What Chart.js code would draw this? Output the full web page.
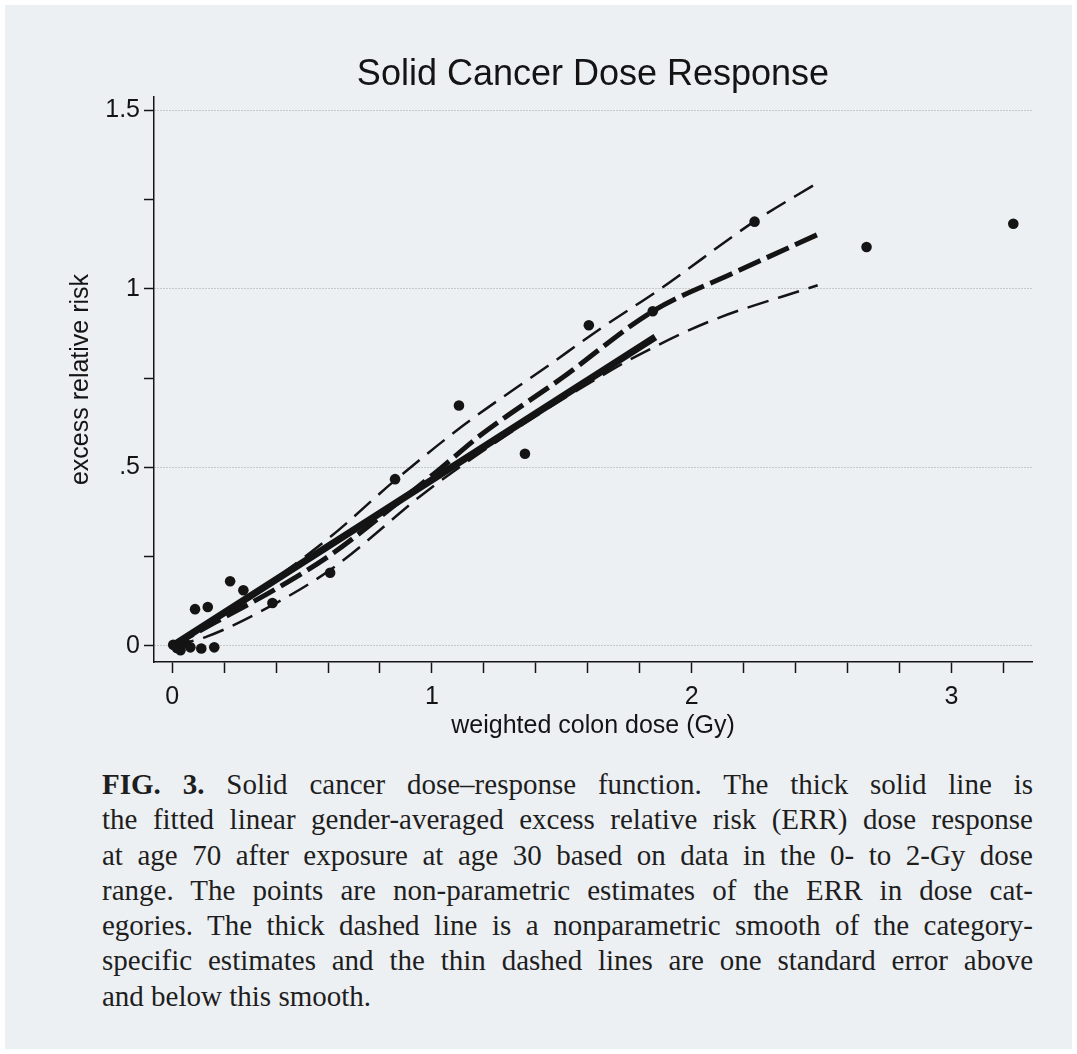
<!DOCTYPE html>
<html>
<head>
<meta charset="utf-8">
<script src="https://cdn.jsdelivr.net/npm/chart.js@4.4.1/dist/chart.umd.min.js"></script>
<style>
  html, body { margin: 0; padding: 0; background: #ffffff; }
  #page {
    position: absolute; left: 5px; top: 5px; width: 1067px; height: 1044px;
    background: #edf0f3;
  }
  #chart { position: absolute; left: 0; top: 0; }
  #caption {
    position: absolute; left: 102px; top: 767px; width: 931px;
    font-family: "Liberation Serif", "Times New Roman", serif;
    font-size: 29px; line-height: 35.3px; color: #1e1e1e;
  }
  #caption .ln { text-align: justify; text-align-last: justify; white-space: nowrap; }
  #caption .ln.last { text-align-last: left; }
</style>
</head>
<body>
<div id="page"></div>
<canvas id="chart" width="1077" height="760"></canvas>
<div id="caption">
  <div class="ln"><b>FIG. 3.</b> Solid cancer dose–response function. The thick solid line is</div>
  <div class="ln">the fitted linear gender-averaged excess relative risk (ERR) dose response</div>
  <div class="ln">at age 70 after exposure at age 30 based on data in the 0- to 2-Gy dose</div>
  <div class="ln">range. The points are non-parametric estimates of the ERR in dose cat-</div>
  <div class="ln">egories. The thick dashed line is a nonparametric smooth of the category-</div>
  <div class="ln">specific estimates and the thin dashed lines are one standard error above</div>
  <div class="ln last">and below this smooth.</div>
</div>
<script>
// ---- datos ----
// estimaciones por categoria de dosis (puntos)
const catDose = [0.004, 0.018, 0.032, 0.05, 0.07, 0.088, 0.112, 0.137, 0.162, 0.223, 0.274, 0.386, 0.608, 0.858, 1.104, 1.358, 1.604, 1.85, 2.242, 2.673, 3.238];
const catErr  = [0.003, -0.006, -0.012, 0.008, -0.004, 0.103, -0.007, 0.109, -0.004, 0.181, 0.156, 0.120, 0.205, 0.467, 0.673, 0.538, 0.898, 0.937, 1.188, 1.117, 1.182];

// ajuste lineal (linea gruesa continua)
const fitDose = [0, 1.86];
const fitErr  = [0, 0.865];

// suavizado no parametrico (linea gruesa discontinua)
const smoothDose = [0, 0.16, 0.4, 0.62, 0.85, 1.03, 1.185, 1.5, 1.85, 2.16, 2.485];
const smoothErr  = [0, 0.064, 0.16, 0.26, 0.39, 0.495, 0.589, 0.75, 0.937, 1.044, 1.152];

// +/- un error estandar (lineas finas discontinuas)
const upperDose = [0, 0.3, 0.6, 0.86, 1.12, 1.45, 1.65, 1.88, 2.24, 2.485];
const upperErr  = [0, 0.14, 0.3, 0.465, 0.617, 0.786, 0.889, 1.0, 1.188, 1.297];
const lowerDose = [0, 0.133, 0.4, 0.62, 0.99, 1.35, 1.69, 1.81, 2.07, 2.485];
const lowerErr  = [0, 0.026, 0.12, 0.219, 0.439, 0.62, 0.772, 0.82, 0.909, 1.01];

// etiquetas de los ejes
const xTickLabels = { 0: '0', 1: '1', 2: '2', 3: '3' };
const yTickLabels = { 0: '0', 0.5: '.5', 1: '1', 1.5: '1.5' };

const ink = '#141414';
const axisFont = { family: '"Liberation Sans", Arial, sans-serif', size: 25 };

function pairs(xs, ys) {
    return xs.map((x, i) => ({ x: x, y: ys[i] }));
}

function labelFor(map, value) {
    for (const k of Object.keys(map)) {
        if (Math.abs(Number(k) - value) < 1e-6) return map[k];
    }
    return '';
}

const ctx = document.getElementById('chart');

new Chart(ctx, {
    type: 'scatter',
    data: {
        datasets: [
            {
                label: 'categories',
                data: pairs(catDose, catErr),
                pointRadius: 5.3,
                pointBackgroundColor: ink,
                pointBorderColor: ink,
                pointBorderWidth: 0,
                showLine: false,
                order: 0
            },
            {
                label: 'linear fit',
                data: pairs(fitDose, fitErr),
                showLine: true,
                borderColor: ink,
                borderWidth: 7,
                pointRadius: 0,
                order: 2
            },
            {
                label: 'smooth',
                data: pairs(smoothDose, smoothErr),
                showLine: true,
                borderColor: ink,
                borderWidth: 5,
                borderDash: [24, 7],
                cubicInterpolationMode: 'monotone',
                pointRadius: 0,
                order: 1
            },
            {
                label: 'upper',
                data: pairs(upperDose, upperErr),
                showLine: true,
                borderColor: ink,
                borderWidth: 2.5,
                borderDash: [22, 10],
                cubicInterpolationMode: 'monotone',
                pointRadius: 0,
                order: 3
            },
            {
                label: 'lower',
                data: pairs(lowerDose, lowerErr),
                showLine: true,
                borderColor: ink,
                borderWidth: 2.5,
                borderDash: [22, 10],
                cubicInterpolationMode: 'monotone',
                pointRadius: 0,
                order: 3
            }
        ]
    },
    options: {
        responsive: false,
        animation: false,
        devicePixelRatio: 1,
        layout: { padding: { left: 0, right: 45, top: 0, bottom: 0 } },
        plugins: {
            legend: { display: false },
            tooltip: { enabled: false },
            title: {
                display: true,
                fullSize: false, // centrado sobre el area del grafico
                text: 'Solid Cancer Dose Response',
                color: ink,
                font: { family: '"Liberation Sans", Arial, sans-serif', size: 36, weight: 'normal', lineHeight: 1.1 },
                padding: { top: 55, bottom: 2.4 }
            }
        },
        scales: {
            x: {
                type: 'linear',
                min: -0.07,
                max: 3.31,
                afterFit: (scale) => { scale.height = 98; },
                border: { display: true, color: ink, width: 1.5 },
                grid: {
                    drawOnChartArea: false,
                    drawTicks: true,
                    tickLength: 11,
                    tickColor: ink,
                    tickWidth: 1.5
                },
                ticks: {
                    stepSize: 0.2,
                    includeBounds: false,
                    autoSkip: false,
                    maxRotation: 0,
                    color: ink,
                    font: axisFont,
                    padding: 9,
                    callback: (v) => labelFor(xTickLabels, v)
                },
                title: {
                    display: true,
                    text: 'weighted colon dose (Gy)',
                    color: ink,
                    font: axisFont,
                    padding: { top: 0, bottom: 19 }
                }
            },
            y: {
                type: 'linear',
                min: -0.045,
                max: 1.537,
                afterFit: (scale) => { scale.width = 154; },
                border: {
                    display: true, color: ink, width: 1.5,
                    dash: [1, 2]
                },
                grid: {
                    drawOnChartArea: true,
                    color: (c) => (c.tick && labelFor(yTickLabels, c.tick.value) !== '') ? '#a0a0a0' : 'rgba(0,0,0,0)',
                    lineWidth: 1,
                    drawTicks: true,
                    tickLength: 10,
                    tickColor: ink,
                    tickWidth: 1.5,
                    tickBorderDash: []
                },
                ticks: {
                    stepSize: 0.25,
                    includeBounds: false,
                    autoSkip: false,
                    color: ink,
                    font: axisFont,
                    padding: 4,
                    callback: (v) => labelFor(yTickLabels, v)
                },
                title: {
                    display: true,
                    text: 'excess relative risk',
                    color: ink,
                    font: axisFont,
                    padding: { top: 66, bottom: 0 }
                }
            }
        }
    }
});
</script>
</body>
</html>
